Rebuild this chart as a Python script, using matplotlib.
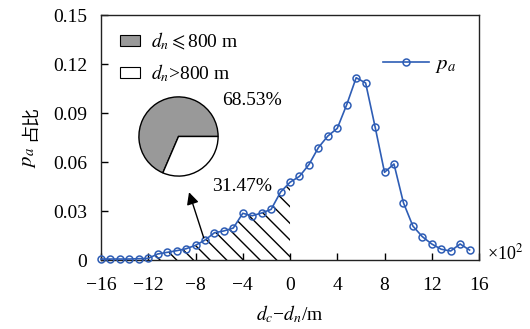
import matplotlib
matplotlib.use("Agg")
import matplotlib.pyplot as plt
from matplotlib.patches import Patch
from matplotlib.lines import Line2D
import numpy as np

plt.rcParams['font.family'] = ['Liberation Serif', 'Noto Sans CJK SC', 'DejaVu Sans']
plt.rcParams['mathtext.fontset'] = 'stix'
plt.rcParams['hatch.linewidth'] = 1.0

# data (x in units of 100 m)
x_vals = [-16.0, -15.2, -14.4, -13.6, -12.8, -12.0, -11.2, -10.4, -9.6, -8.8,
          -8.0, -7.2, -6.4, -5.6, -4.8, -4.0, -3.2, -2.4, -1.6, -0.8,
          0.0, 0.8, 1.6, 2.4, 3.2, 4.0, 4.8, 5.6, 6.4, 7.2,
          8.0, 8.8, 9.6, 10.4, 11.2, 12.0, 12.8, 13.6, 14.4, 15.2]
pa_vals = [0.0006, 0.0006, 0.0006, 0.0006, 0.0008, 0.0010, 0.0037, 0.0047, 0.0057, 0.0069,
           0.0090, 0.0122, 0.0167, 0.0178, 0.0196, 0.0286, 0.0271, 0.0288, 0.0310, 0.0416,
           0.0476, 0.0512, 0.0584, 0.0688, 0.0759, 0.0806, 0.0951, 0.1116, 0.1084, 0.0816,
           0.0537, 0.0588, 0.0351, 0.0208, 0.0143, 0.0098, 0.0066, 0.0055, 0.0098, 0.0061]
pie_labels = ['$d_n\\leqslant$800 m', '$d_n$>800 m']
pie_shares = [68.53, 31.47]
x_ticks = [-16, -12, -8, -4, 0, 4, 8, 12, 16]
y_ticks = [0, 0.03, 0.06, 0.09, 0.12, 0.15]
y_ticklabels = ['0', '0.03', '0.06', '0.09', '0.12', '0.15']

line_color = '#2E5DB5'
gray = '#999999'

fig = plt.figure(figsize=(5.30, 3.29), dpi=100)
ax = fig.add_axes([0.1906, 0.2097, 0.7132, 0.7447])

x = np.array(x_vals)
y = np.array(pa_vals)
mask = x <= 0
ax.fill_between(x[mask], 0, y[mask], facecolor='none', edgecolor='black',
                hatch='\\\\', linewidth=0, zorder=1)
ax.plot(x, y, color=line_color, lw=1.2, marker='o', markersize=5,
        markerfacecolor='none', markeredgecolor=line_color, markeredgewidth=1.1, zorder=3,
        clip_on=False)

ax.set_xlim(-16, 16)
ax.set_ylim(0, 0.15)
ax.set_xticks(x_ticks)
ax.set_xticklabels([str(t).replace('-', '\u2212') for t in x_ticks])
ax.set_yticks(y_ticks)
ax.set_yticklabels(y_ticklabels)
ax.tick_params(direction='in', length=5, width=1, labelsize=14,
               top=False, right=False)
ax.tick_params(axis='y', pad=10)
ax.tick_params(axis='x', pad=12)
for s in ax.spines.values():
    s.set_linewidth(1.0)
    s.set_color('#222222')

ax.set_xlabel('$d_c$\u2212$d_n$/m', fontsize=14, labelpad=7)
fig.text(29 / 530, 1 - 157 / 329, '$p_a$', fontsize=15, rotation=90,
         ha='center', va='center')
fig.text(30 / 530, 1 - 123 / 329, '占比', fontsize=13, rotation=90,
         ha='center', va='center', family=['Noto Sans CJK SC'])
fig.text(0.918, 1 - 253 / 329, '×10$^2$', fontsize=13, ha='left', va='center')

handles = [Patch(facecolor=gray, edgecolor='black', linewidth=0.8),
           Patch(facecolor='white', edgecolor='black', linewidth=0.8)]
leg1 = ax.legend(handles, pie_labels, loc='upper left', bbox_to_anchor=(0.01, 1.0),
                 frameon=False, fontsize=14, handlelength=1.0, handleheight=0.5,
                 handletextpad=0.6, labelspacing=0.55, borderaxespad=0.4)
ax.add_artist(leg1)
lh = [Line2D([0], [0], color=line_color, lw=1.2, marker='o', markersize=5,
             markerfacecolor='none', markeredgewidth=1.1)]
ax.legend(lh, ['$p_a$'], loc='upper right', bbox_to_anchor=(0.99, 0.915),
          frameon=False, fontsize=15, handlelength=2.2, handletextpad=0.3)

# arrow
ax.annotate('', xy=(-8.55, 0.0415), xytext=(-7.3, 0.0135),
            arrowprops=dict(arrowstyle='-|>', color='black', lw=1.0,
                            mutation_scale=18, shrinkA=0, shrinkB=0))

# pie inset
pax = fig.add_axes([0.2434, 0.4347, 0.1868, 0.3009])
pax.pie(pie_shares, colors=[gray, 'white'], startangle=0, counterclock=True,
        wedgeprops=dict(edgecolor='black', linewidth=1.0))
pax.set_aspect('equal')
fig.text(0.419, 0.695, f'{pie_shares[0]:.2f}%', fontsize=14, ha='left', va='center')
fig.text(0.400, 0.432, f'{pie_shares[1]:.2f}%', fontsize=14, ha='left', va='center')

fig.savefig('out.png', dpi=100)
